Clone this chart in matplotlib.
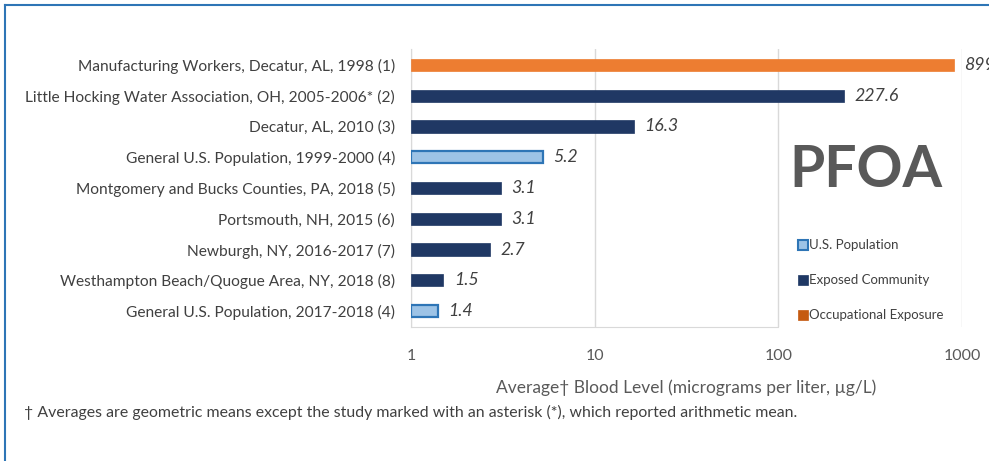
import matplotlib
matplotlib.use("Agg")
import matplotlib.pyplot as plt
from matplotlib.patches import Patch
from matplotlib.lines import Line2D

plt.rcParams['font.family'] = ['Lato', 'DejaVu Sans']

categories = [
    "Manufacturing Workers, Decatur, AL, 1998 (1)",
    "Little Hocking Water Association, OH, 2005-2006* (2)",
    "Decatur, AL, 2010 (3)",
    "General U.S. Population, 1999-2000 (4)",
    "Montgomery and Bucks Counties, PA, 2018 (5)",
    "Portsmouth, NH, 2015 (6)",
    "Newburgh, NY, 2016-2017 (7)",
    "Westhampton Beach/Quogue Area, NY, 2018 (8)",
    "General U.S. Population, 2017-2018 (4)",
]
values = [899, 227.6, 16.3, 5.2, 3.1, 3.1, 2.7, 1.5, 1.4]
value_labels = ["899", "227.6", "16.3", "5.2", "3.1", "3.1", "2.7", "1.5", "1.4"]
groups = ["Occupational Exposure", "Exposed Community", "Exposed Community",
          "U.S. Population", "Exposed Community", "Exposed Community",
          "Exposed Community", "Exposed Community", "U.S. Population"]
legend_order = ["U.S. Population", "Exposed Community", "Occupational Exposure"]
xticks = [1, 10, 100, 1000]
xtick_labels = ["1", "10", "100", "1000"]

fill = {"U.S. Population": "#9DC3E6", "Exposed Community": "#203864",
        "Occupational Exposure": "#ED7D31"}
edge = {"U.S. Population": "#2E75B6", "Exposed Community": "#203864",
        "Occupational Exposure": "#ED7D31"}
lw = {"U.S. Population": 1.6, "Exposed Community": 0.5, "Occupational Exposure": 0.5}
leg_fill = {"U.S. Population": "#9DC3E6", "Exposed Community": "#1F3864",
            "Occupational Exposure": "#C55A11"}

fig = plt.figure(figsize=(9.89, 4.61), dpi=100)
ax = fig.add_axes([411/989, 1-327/461, (962-411)/989, (327-49)/461])

ypos = list(range(len(categories)))
for y, v, g in zip(ypos, values, groups):
    ax.barh(y, v - 1, left=1, height=0.4, color=fill[g], edgecolor=edge[g],
            linewidth=lw[g], zorder=3)
for y, v, t in zip(ypos, values, value_labels):
    ax.annotate(t, (v, y), xytext=(7.5, 0), textcoords="offset points",
                va="center", ha="left", fontsize=12.8, style="italic",
                color="#404040", annotation_clip=False, clip_on=False)

ax.set_xscale("log")
ax.set_xlim(1, 1000)
ax.set_ylim(len(categories) - 0.48, -0.52)
ax.set_xticks(xticks)
ax.set_xticklabels(xtick_labels)
ax.xaxis.set_minor_locator(matplotlib.ticker.NullLocator())
ax.set_yticks(ypos)
ax.set_yticklabels(categories)
ax.tick_params(axis="y", length=0, pad=11.5, labelsize=11.15, labelcolor="#404040")
ax.tick_params(axis="x", length=0, pad=16, labelsize=11.5, labelcolor="#595959")
ax.grid(axis="x", color="#D9D9D9", linewidth=1, zorder=0)
for s in ["top", "right"]:
    ax.spines[s].set_visible(False)
ax.spines["left"].set_color("#D9D9D9")
ax.spines["bottom"].set_color("#D9D9D9")
ax.spines["bottom"].set_bounds(1, 100)

ax.set_xlabel("Average\u2020 Blood Level (micrograms per liter, \u00b5g/L)",
              fontsize=12.5, color="#595959", labelpad=12)

ax.text((866-411)/551, 1-(170-49)/278, "PFOA", transform=ax.transAxes,
        ha="center", va="center",
        fontsize=41, fontweight="bold", color="#595959")

handles = [Patch(facecolor=leg_fill[g], edgecolor=edge[g] if g == "U.S. Population" else leg_fill[g],
                 linewidth=1.5 if g == "U.S. Population" else 0.5) for g in legend_order]
leg = ax.legend(handles, legend_order, loc="upper left",
                bbox_to_anchor=((793-411)/551, 1-(234-49)/278),
                frameon=False, fontsize=9.5, labelcolor="#404040",
                handlelength=0.75, handleheight=0.75, handletextpad=0.1,
                labelspacing=1.75, borderaxespad=0)

fig.text(24/989, 1-412/461,
         "\u2020 Averages are geometric means except the study marked with an asterisk (*), which reported arithmetic mean.",
         fontsize=11.4, color="#404040", va="center", ha="left")

# outer blue frame (left and top edges visible)
fig.add_artist(Line2D([4.5/989, 4.5/989], [0, 1-5.5/461], transform=fig.transFigure,
                      color="#2E75B6", linewidth=1.5))
fig.add_artist(Line2D([4.5/989, 1], [1-5.5/461, 1-5.5/461], transform=fig.transFigure,
                      color="#2E75B6", linewidth=1.5))

fig.savefig("out.png", dpi=100)
